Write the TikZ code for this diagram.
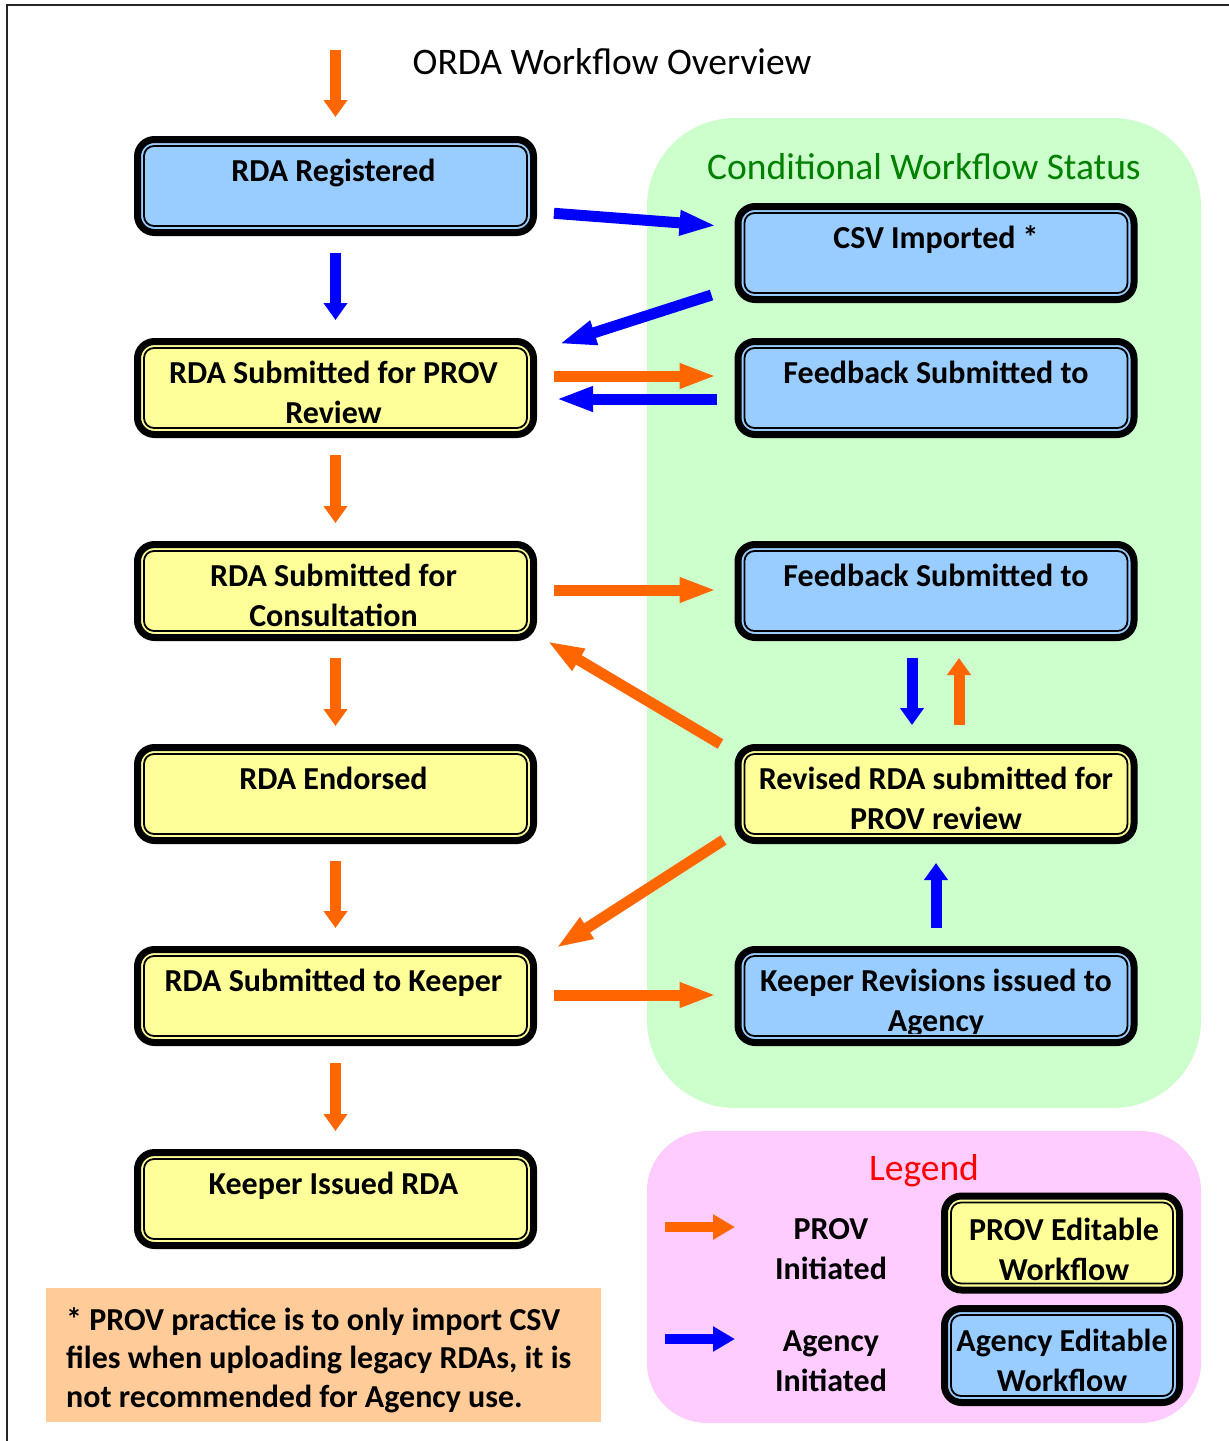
\documentclass[tikz,border=0pt]{standalone}
\usepackage{fontspec}
\setmainfont{Carlito}
\usetikzlibrary{arrows.meta,calc}
\definecolor{boxblue}{HTML}{99CCFF}
\definecolor{boxyellow}{HTML}{FFFF99}
\definecolor{regiongreen}{HTML}{CCFFCC}
\definecolor{regionpink}{HTML}{FFCCFF}
\definecolor{notepeach}{HTML}{FFCC99}
\definecolor{arrorange}{HTML}{FF6600}
\definecolor{arrblue}{HTML}{0000FF}
\definecolor{titlegreen}{HTML}{008000}
\tikzset{
  wfbox/.style={draw=black, line width=7pt, rounded corners=17pt,
    minimum width=396pt, minimum height=93pt, inner sep=0pt,
    path picture={\draw[black, line width=1.8pt, rounded corners=10pt]
      ([shift={(6.5,6.5)}]path picture bounding box.north west) rectangle
      ([shift={(-6.5,-6.5)}]path picture bounding box.south east);}},
  blubox/.style={wfbox, fill=boxblue},
  yelbox/.style={wfbox, fill=boxyellow},
  smallbox/.style={minimum width=235pt, minimum height=94pt},
  btext/.style={font=\bfseries\fontsize{32}{40}\selectfont, align=center, inner sep=0pt, anchor=north},
  ttext/.style={font=\fontsize{37.5}{44}\selectfont, inner sep=0pt, anchor=base},
  shaft/.style={line width=11pt},
  varrow/.style={shaft, -{Triangle[length=17pt,width=23pt]}},
  harrow/.style={shaft, -{Triangle[length=37pt,width=23pt]}},
  legarrow/.style={line width=10pt, -{Triangle[length=22pt,width=24pt]}},
}
\begin{document}
\begin{tikzpicture}[x=1pt,y=-1pt]
\useasboundingbox (0,0) rectangle (1229,1441);
\fill[white] (0,0) rectangle (1229,1441);
\draw[line width=2.2pt, black!85] (7,1441) -- (7,5) -- (1229,5);

% regions
\fill[regiongreen, rounded corners=88pt] (647,118) rectangle (1201,1108);
\fill[regionpink, rounded corners=60pt] (647,1131) rectangle (1201,1423);

% titles
\node[ttext] (title) at (612,74) {ORDA Workflow Overview};
\node[ttext, text=titlegreen] (condtitle) at (924,179) {Conditional Workflow Status};
\node[ttext, text=red] (legtitle) at (924,1180) {Legend};

% left column
\node[blubox] (reg) at (335.5,186) {};
\node[yelbox] (subprov) at (335.5,388) {};
\node[yelbox] (consult) at (335.5,591) {};
\node[yelbox] (endorsed) at (335.5,794) {};
\node[yelbox] (keeper) at (335.5,996) {};
\node[yelbox] (issued) at (335.5,1199) {};
% right column
\node[blubox] (csv) at (936,253) {};
\node[blubox] (fb1) at (936,388) {};
\node[blubox] (fb2) at (936,591) {};
\node[yelbox] (revised) at (936,794) {};
\node[blubox] (krev) at (936,996) {};

% box texts
\node[btext] (reg-t) at ($(reg.north)+(-2,17.5)$) {\strut RDA Registered};
\node[btext] (subprov-t) at ($(subprov.north)+(-2,17.5)$) {\strut RDA Submitted for PROV\\Review};
\node[btext] (consult-t) at ($(consult.north)+(-2,17.5)$) {\strut RDA Submitted for\\Consultation};
\node[btext] (endorsed-t) at ($(endorsed.north)+(-2,17.5)$) {\strut RDA Endorsed};
\node[btext] (keeper-t) at ($(keeper.north)+(-2,17.5)$) {\strut RDA Submitted to Keeper};
\node[btext] (issued-t) at ($(issued.north)+(-2,17.5)$) {\strut Keeper Issued RDA};
\node[btext] (csv-t) at ($(csv.north)+(0,17.5)$) {\strut CSV Imported *};
\node[btext] (fb1-t) at ($(fb1.north)+(0,17.5)$) {\strut Feedback Submitted to};
\node[btext] (fb2-t) at ($(fb2.north)+(0,17.5)$) {\strut Feedback Submitted to};
\node[btext] (revised-t) at ($(revised.north)+(0,17.5)$) {\strut Revised RDA submitted for\\PROV review};
\begin{scope}
  \clip (krev.north west) rectangle ($(krev.south east)+(0,-13)$);
  \node[btext] (krev-t) at ($(krev.north)+(0,17.5)$) {\strut Keeper Revisions issued to\\Agency};
\end{scope}

% arrows left column
\coordinate (start) at (335.5,50);
\draw[varrow, arrorange, shorten >=19pt] (start) -- (reg.north);
\draw[varrow, arrblue, shorten <=17pt, shorten >=18pt] (reg.south) -- (subprov.north);
\draw[varrow, arrorange, shorten <=17pt, shorten >=18pt] (subprov.south) -- (consult.north);
\draw[varrow, arrorange, shorten <=17pt, shorten >=18pt] (consult.south) -- (endorsed.north);
\draw[varrow, arrorange, shorten <=17pt, shorten >=18pt] (endorsed.south) -- (keeper.north);
\draw[varrow, arrorange, shorten <=17pt, shorten >=18pt] (keeper.south) -- (issued.north);

% arrows between columns
\draw[harrow, arrblue, shorten <=17pt, shorten >=18pt] ([yshift=-26pt]reg.east) -- ([yshift=26pt]csv.west);
\draw[harrow, arrblue] ([shift={(-23,42)}]csv.west) -- ([shift={(22,-44)}]subprov.east);
\draw[harrow, arrorange, shorten <=17pt, shorten >=18pt] ([yshift=12pt]subprov.east) -- ([yshift=12pt]fb1.west);
\draw[harrow, arrblue, shorten <=18pt, shorten >=19pt] ([yshift=-11pt]fb1.west) -- ([yshift=-11pt]subprov.east);
\draw[harrow, arrorange, shorten <=17pt, shorten >=18pt] ([yshift=1pt]consult.east) -- ([yshift=1pt]fb2.west);
\draw[harrow, arrorange] ([shift={(-14,0)}]revised.north west) -- ([shift={(10,0)}]consult.south east);
\draw[harrow, arrorange] ([shift={(-11,-4)}]revised.south west) -- ([shift={(19,2)}]keeper.north east);
\draw[harrow, arrorange, shorten <=17pt, shorten >=18pt] ([yshift=1pt]keeper.east) -- ([yshift=1pt]krev.west);

% right column vertical arrows
\draw[varrow, arrblue, shorten <=17pt, shorten >=19pt] ([xshift=-24pt]fb2.south) -- ([xshift=-24pt]revised.north);
\draw[varrow, arrorange, shorten <=19pt, shorten >=17pt] ([xshift=23pt]revised.north) -- ([xshift=23pt]fb2.south);
\draw[varrow, arrblue, shorten <=18pt, shorten >=19pt] (krev.north) -- (revised.south);

% legend
\coordinate (lo1) at (665,1227);
\coordinate (lo2) at (735,1227);
\coordinate (lb1) at (665,1339);
\coordinate (lb2) at (735,1339);
\draw[legarrow, arrorange] (lo1) -- (lo2);
\draw[legarrow, arrblue] (lb1) -- (lb2);
\node[btext] (lprovlbl) at (831,1211) {\strut PROV\\Initiated};
\node[btext] (lagencylbl) at (831,1323) {\strut Agency\\Initiated};
\node[yelbox, smallbox] (lprov) at (1062,1243) {};
\node[blubox, smallbox] (lagency) at (1062,1355.5) {};
\node[btext] (lprov-t) at ($(lprov.north)+(2,19.5)$) {\strut PROV Editable\\Workflow};
\node[btext] (lagency-t) at ($(lagency.north)+(0,18.5)$) {\strut Agency Editable\\Workflow};

% footnote
\node[fill=notepeach, minimum width=555pt, minimum height=134pt, inner sep=0pt] (note) at (323.5,1355) {};
\node[font=\bfseries\fontsize{32}{38.5}\selectfont, align=left, anchor=north west, inner sep=0pt] (note-t) at (66,1303) {\strut * PROV practice is to only import CSV\\files when uploading legacy RDAs, it is\\not recommended for Agency use.};
\end{tikzpicture}
\end{document}
